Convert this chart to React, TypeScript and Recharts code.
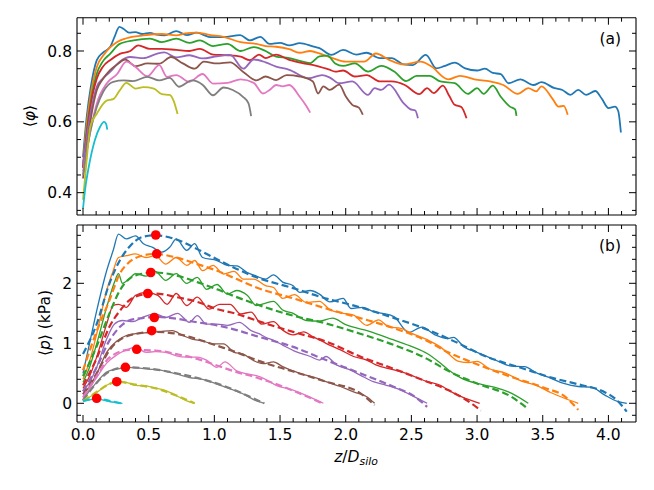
import React from 'react';
import { LineChart, ComposedChart, Line, Scatter, XAxis, YAxis } from 'recharts';

const COLORS = ['#1f77b4', '#ff7f0e', '#2ca02c', '#d62728', '#9467bd', '#8c564b', '#e377c2', '#7f7f7f', '#bcbd22', '#17becf'];

// ---- tick values ----
const xMajor = [0, 0.5, 1, 1.5, 2, 2.5, 3, 3.5, 4];
const xMinor = [0.1, 0.2, 0.3, 0.4, 0.6, 0.7, 0.8, 0.9, 1.1, 1.2, 1.3, 1.4, 1.6, 1.7, 1.8, 1.9, 2.1, 2.2, 2.3, 2.4, 2.6, 2.7, 2.8, 2.9, 3.1, 3.2, 3.3, 3.4, 3.6, 3.7, 3.8, 3.9, 4.1];
const phiMajor = [0.4, 0.6, 0.8];
const phiMinor = [0.35, 0.45, 0.5, 0.55, 0.65, 0.7, 0.75, 0.85];
const pMajor = [0, 1, 2];
const pMinor = [-0.2, 0.2, 0.4, 0.6, 0.8, 1.2, 1.4, 1.6, 1.8, 2.2, 2.4, 2.6, 2.8];

// ---- panel (a): packing fraction ----
const phiBlue = [[0, 0.5], [0.03, 0.62], [0.06, 0.7], [0.105, 0.774], [0.15, 0.795], [0.206, 0.811], [0.24, 0.84], [0.277, 0.868], [0.31, 0.862], [0.35, 0.852], [0.4, 0.853], [0.45, 0.848], [0.51, 0.851], [0.56, 0.846], [0.62, 0.844], [0.71, 0.856], [0.79, 0.845], [0.866, 0.852], [0.92, 0.845], [0.97, 0.839], [1.07, 0.839], [1.196, 0.845], [1.27, 0.83], [1.35, 0.84], [1.42, 0.82], [1.5, 0.823], [1.57, 0.816], [1.65, 0.822], [1.75, 0.813], [1.8, 0.808], [1.89, 0.789], [1.98, 0.803], [2.08, 0.79], [2.16, 0.795], [2.26, 0.78], [2.35, 0.78], [2.44, 0.762], [2.51, 0.76], [2.61, 0.789], [2.69, 0.751], [2.75, 0.757], [2.83, 0.767], [2.91, 0.751], [3.0, 0.745], [3.06, 0.75], [3.12, 0.738], [3.18, 0.735], [3.24, 0.709], [3.33, 0.72], [3.43, 0.704], [3.49, 0.712], [3.59, 0.695], [3.65, 0.69], [3.71, 0.676], [3.77, 0.69], [3.83, 0.676], [3.9, 0.687], [3.95, 0.665], [4.0, 0.639], [4.05, 0.643], [4.075, 0.63], [4.095, 0.57]];
const phiOrange = [[0, 0.48], [0.03, 0.6], [0.06, 0.68], [0.105, 0.755], [0.16, 0.79], [0.206, 0.81], [0.257, 0.825], [0.33, 0.836], [0.46, 0.844], [0.6, 0.848], [0.71, 0.844], [0.78, 0.85], [0.86, 0.852], [0.97, 0.845], [1.07, 0.84], [1.2, 0.825], [1.32, 0.82], [1.39, 0.814], [1.47, 0.812], [1.57, 0.805], [1.65, 0.795], [1.73, 0.8], [1.8, 0.793], [1.9, 0.78], [2.0, 0.77], [2.14, 0.77], [2.23, 0.793], [2.33, 0.775], [2.44, 0.762], [2.57, 0.77], [2.65, 0.757], [2.78, 0.72], [2.87, 0.73], [2.98, 0.72], [3.1, 0.714], [3.2, 0.704], [3.31, 0.679], [3.39, 0.695], [3.45, 0.686], [3.49, 0.7], [3.58, 0.662], [3.62, 0.643], [3.66, 0.645], [3.69, 0.62]];
const phiGreen = [[0, 0.47], [0.03, 0.58], [0.06, 0.66], [0.105, 0.736], [0.15, 0.77], [0.206, 0.792], [0.28, 0.82], [0.385, 0.83], [0.51, 0.835], [0.6, 0.825], [0.71, 0.835], [0.81, 0.823], [0.89, 0.83], [0.99, 0.814], [1.1, 0.82], [1.2, 0.8], [1.3, 0.811], [1.39, 0.8], [1.47, 0.784], [1.57, 0.78], [1.65, 0.772], [1.73, 0.766], [1.8, 0.785], [1.86, 0.787], [1.92, 0.765], [1.98, 0.758], [2.07, 0.765], [2.17, 0.742], [2.27, 0.758], [2.37, 0.742], [2.46, 0.715], [2.54, 0.73], [2.64, 0.73], [2.72, 0.714], [2.83, 0.709], [2.93, 0.679], [3.0, 0.695], [3.05, 0.679], [3.12, 0.702], [3.18, 0.671], [3.25, 0.643], [3.29, 0.635], [3.3, 0.617]];
const phiRed = [[0, 0.47], [0.03, 0.57], [0.06, 0.65], [0.105, 0.722], [0.15, 0.755], [0.206, 0.774], [0.28, 0.792], [0.36, 0.8], [0.42, 0.816], [0.51, 0.806], [0.6, 0.806], [0.71, 0.803], [0.81, 0.8], [0.89, 0.806], [0.99, 0.79], [1.1, 0.788], [1.2, 0.784], [1.27, 0.774], [1.34, 0.79], [1.39, 0.78], [1.47, 0.79], [1.57, 0.775], [1.67, 0.766], [1.77, 0.759], [1.87, 0.748], [1.92, 0.742], [1.98, 0.745], [2.07, 0.728], [2.16, 0.732], [2.26, 0.714], [2.35, 0.714], [2.45, 0.704], [2.56, 0.678], [2.62, 0.695], [2.67, 0.681], [2.74, 0.702], [2.79, 0.672], [2.83, 0.648], [2.88, 0.642], [2.92, 0.61]];
const phiPurple = [[0, 0.48], [0.03, 0.56], [0.06, 0.63], [0.105, 0.699], [0.15, 0.722], [0.206, 0.741], [0.28, 0.77], [0.36, 0.783], [0.46, 0.78], [0.56, 0.792], [0.62, 0.796], [0.71, 0.782], [0.81, 0.788], [0.91, 0.779], [1.02, 0.785], [1.12, 0.789], [1.22, 0.75], [1.3, 0.776], [1.39, 0.768], [1.47, 0.756], [1.57, 0.747], [1.72, 0.723], [1.82, 0.732], [1.88, 0.725], [1.95, 0.709], [2.05, 0.714], [2.17, 0.676], [2.22, 0.695], [2.27, 0.69], [2.33, 0.705], [2.44, 0.653], [2.49, 0.636], [2.53, 0.632], [2.55, 0.61]];
const phiBrown = [[0, 0.44], [0.03, 0.53], [0.06, 0.61], [0.105, 0.689], [0.15, 0.72], [0.206, 0.746], [0.26, 0.762], [0.32, 0.776], [0.4, 0.757], [0.49, 0.765], [0.58, 0.764], [0.67, 0.783], [0.76, 0.765], [0.85, 0.75], [0.92, 0.77], [1.02, 0.765], [1.12, 0.768], [1.22, 0.741], [1.32, 0.717], [1.39, 0.728], [1.47, 0.718], [1.55, 0.732], [1.65, 0.728], [1.75, 0.714], [1.79, 0.68], [1.83, 0.7], [1.88, 0.69], [1.95, 0.705], [2.0, 0.672], [2.05, 0.648], [2.1, 0.64], [2.13, 0.62]];
const phiPink = [[0, 0.46], [0.03, 0.52], [0.06, 0.58], [0.105, 0.652], [0.18, 0.708], [0.26, 0.735], [0.33, 0.77], [0.4, 0.755], [0.49, 0.729], [0.58, 0.76], [0.64, 0.727], [0.71, 0.732], [0.81, 0.713], [0.91, 0.735], [0.99, 0.708], [1.1, 0.71], [1.2, 0.72], [1.3, 0.71], [1.37, 0.68], [1.42, 0.69], [1.47, 0.704], [1.52, 0.7], [1.57, 0.704], [1.65, 0.671], [1.7, 0.645], [1.73, 0.626]];
const phiGray = [[0, 0.45], [0.03, 0.52], [0.06, 0.58], [0.105, 0.642], [0.154, 0.685], [0.23, 0.713], [0.31, 0.717], [0.38, 0.715], [0.49, 0.727], [0.58, 0.717], [0.66, 0.724], [0.73, 0.699], [0.83, 0.717], [0.91, 0.705], [0.99, 0.675], [1.07, 0.697], [1.14, 0.69], [1.22, 0.67], [1.26, 0.652], [1.28, 0.616]];
const phiOlive = [[0, 0.38], [0.03, 0.5], [0.055, 0.586], [0.105, 0.623], [0.18, 0.66], [0.23, 0.664], [0.28, 0.689], [0.33, 0.71], [0.4, 0.694], [0.46, 0.698], [0.54, 0.694], [0.6, 0.678], [0.66, 0.676], [0.69, 0.659], [0.72, 0.622]];
const phiCyan = [[0, 0.355], [0.02, 0.42], [0.04, 0.465], [0.09, 0.548], [0.13, 0.586], [0.16, 0.6], [0.175, 0.595], [0.185, 0.578]];

// ---- panel (b): pressure, measured ----
const pBlue = [[0, 0.5], [0.05, 1.0], [0.104, 1.54], [0.18, 2.21], [0.23, 2.55], [0.27, 2.82], [0.33, 2.74], [0.4, 2.79], [0.46, 2.66], [0.53, 2.6], [0.6, 2.52], [0.66, 2.6], [0.71, 2.74], [0.79, 2.55], [0.85, 2.66], [0.91, 2.43], [1.02, 2.38], [1.1, 2.3], [1.17, 2.29], [1.25, 2.18], [1.32, 2.12], [1.39, 2.07], [1.45, 2.14], [1.52, 2.02], [1.6, 1.96], [1.65, 1.85], [1.73, 1.88], [1.8, 1.82], [1.88, 1.69], [1.98, 1.75], [2.04, 1.58], [2.13, 1.6], [2.21, 1.53], [2.28, 1.5], [2.37, 1.44], [2.48, 1.18], [2.58, 1.27], [2.68, 1.14], [2.78, 1.08], [2.82, 1.1], [2.9, 0.94], [3.0, 0.85], [3.13, 0.73], [3.26, 0.62], [3.36, 0.61], [3.46, 0.5], [3.56, 0.42], [3.66, 0.33], [3.77, 0.28], [3.87, 0.27], [3.97, 0.14], [4.07, 0.03], [4.14, 0.0]];
const pOrange = [[0, 0.4], [0.05, 0.7], [0.104, 1.155], [0.18, 1.88], [0.23, 2.21], [0.27, 2.43], [0.33, 2.46], [0.4, 2.49], [0.48, 2.43], [0.55, 2.46], [0.63, 2.32], [0.71, 2.43], [0.79, 2.3], [0.85, 2.38], [0.91, 2.21], [0.99, 2.3], [1.07, 2.155], [1.15, 2.2], [1.22, 2.07], [1.3, 2.07], [1.39, 1.96], [1.45, 1.93], [1.52, 1.75], [1.61, 1.81], [1.7, 1.68], [1.8, 1.7], [1.88, 1.56], [1.98, 1.5], [2.06, 1.47], [2.16, 1.3], [2.25, 1.39], [2.33, 1.27], [2.42, 1.25], [2.5, 1.17], [2.62, 1.06], [2.72, 0.94], [2.78, 0.83], [2.86, 0.7], [2.94, 0.68], [3.0, 0.7], [3.09, 0.58], [3.22, 0.5], [3.35, 0.36], [3.45, 0.3], [3.56, 0.18], [3.67, 0.08], [3.77, 0.0]];
const pGreen = [[0, 0.35], [0.05, 0.6], [0.104, 0.99], [0.18, 1.6], [0.24, 2.02], [0.27, 2.16], [0.3, 2.0], [0.35, 2.07], [0.4, 2.16], [0.48, 2.12], [0.55, 2.2], [0.63, 2.05], [0.71, 2.16], [0.79, 2.0], [0.87, 2.1], [0.94, 1.9], [1.02, 1.98], [1.1, 1.82], [1.17, 1.88], [1.25, 1.8], [1.32, 1.63], [1.39, 1.67], [1.45, 1.7], [1.52, 1.555], [1.6, 1.5], [1.7, 1.38], [1.8, 1.37], [1.9, 1.42], [2.0, 1.31], [2.18, 1.2], [2.36, 1.06], [2.51, 0.94], [2.62, 0.83], [2.72, 0.67], [2.78, 0.56], [2.88, 0.42], [3.0, 0.33], [3.13, 0.27], [3.26, 0.17], [3.39, 0.0]];
const pRed = [[0, 0.25], [0.05, 0.45], [0.104, 0.77], [0.18, 1.32], [0.23, 1.63], [0.27, 1.65], [0.33, 1.6], [0.4, 1.8], [0.48, 1.85], [0.57, 1.8], [0.64, 1.65], [0.71, 1.83], [0.79, 1.63], [0.87, 1.77], [0.96, 1.57], [1.04, 1.65], [1.12, 1.65], [1.2, 1.49], [1.28, 1.52], [1.36, 1.32], [1.45, 1.36], [1.52, 1.22], [1.6, 1.14], [1.68, 1.19], [1.75, 1.11], [1.85, 1.0], [1.96, 0.89], [2.06, 0.78], [2.16, 0.72], [2.23, 0.64], [2.36, 0.56], [2.46, 0.5], [2.62, 0.36], [2.72, 0.3], [2.78, 0.22], [2.88, 0.11], [3.02, 0.0]];
const pPurple = [[0, 0.2], [0.05, 0.35], [0.104, 0.6], [0.18, 1.07], [0.24, 1.32], [0.3, 1.38], [0.38, 1.36], [0.45, 1.43], [0.55, 1.49], [0.63, 1.43], [0.72, 1.5], [0.81, 1.35], [0.87, 1.46], [0.94, 1.32], [1.02, 1.32], [1.1, 1.3], [1.19, 1.35], [1.28, 1.21], [1.34, 1.16], [1.39, 1.1], [1.45, 1.05], [1.52, 0.97], [1.62, 0.86], [1.73, 0.78], [1.8, 0.72], [1.85, 0.78], [1.93, 0.64], [2.03, 0.56], [2.11, 0.47], [2.21, 0.36], [2.31, 0.3], [2.42, 0.22], [2.52, 0.11], [2.62, 0.0]];
const pBrown = [[0, 0.15], [0.05, 0.28], [0.104, 0.49], [0.18, 0.85], [0.26, 1.04], [0.33, 1.13], [0.4, 1.16], [0.5, 1.18], [0.6, 1.2], [0.68, 1.21], [0.76, 1.13], [0.83, 1.07], [0.91, 1.04], [0.99, 0.99], [1.07, 0.99], [1.15, 0.85], [1.22, 0.82], [1.3, 0.71], [1.37, 0.66], [1.45, 0.69], [1.52, 0.61], [1.65, 0.5], [1.78, 0.42], [1.85, 0.36], [1.96, 0.28], [2.06, 0.19], [2.16, 0.11], [2.22, 0.0]];
const pPink = [[0, 0.08], [0.05, 0.25], [0.104, 0.43], [0.18, 0.67], [0.26, 0.81], [0.33, 0.89], [0.4, 0.93], [0.48, 0.85], [0.55, 0.86], [0.63, 0.85], [0.71, 0.79], [0.79, 0.77], [0.87, 0.77], [0.94, 0.72], [1.02, 0.6], [1.08, 0.69], [1.17, 0.54], [1.25, 0.49], [1.32, 0.46], [1.39, 0.4], [1.47, 0.3], [1.6, 0.22], [1.72, 0.11], [1.83, 0.0]];
const pGray = [[0, 0.05], [0.05, 0.21], [0.104, 0.35], [0.18, 0.52], [0.26, 0.57], [0.33, 0.6], [0.4, 0.59], [0.5, 0.57], [0.6, 0.55], [0.71, 0.49], [0.81, 0.43], [0.91, 0.4], [1.02, 0.32], [1.12, 0.24], [1.22, 0.155], [1.32, 0.04], [1.38, 0.0]];
const pOlive = [[0, 0.04], [0.104, 0.18], [0.18, 0.3], [0.26, 0.37], [0.33, 0.35], [0.4, 0.3], [0.48, 0.29], [0.55, 0.255], [0.63, 0.21], [0.71, 0.13], [0.79, 0.04], [0.85, 0.0]];
const pCyan = [[0, 0.03], [0.104, 0.07], [0.2, 0.03], [0.3, 0.0]];

// ---- panel (b): pressure, fits (dashed) ----
const fitBlue = [[0, 0.82], [0.104, 1.32], [0.2, 1.99], [0.28, 2.38], [0.35, 2.6], [0.45, 2.77], [0.55, 2.8], [0.71, 2.73], [0.87, 2.57], [1.02, 2.4], [1.17, 2.24], [1.32, 2.1], [1.6, 1.92], [1.8, 1.78], [2.11, 1.6], [2.37, 1.42], [2.56, 1.28], [2.8, 1.06], [3.07, 0.78], [3.35, 0.58], [3.58, 0.42], [3.8, 0.3], [3.96, 0.2], [4.06, 0.06], [4.14, -0.14]];
const fitOrange = [[0, 0.55], [0.104, 1.2], [0.2, 1.71], [0.28, 2.16], [0.35, 2.35], [0.45, 2.46], [0.55, 2.49], [0.71, 2.43], [0.87, 2.32], [1.02, 2.21], [1.17, 2.07], [1.32, 1.93], [1.6, 1.75], [1.85, 1.58], [2.11, 1.42], [2.37, 1.25], [2.62, 1.04], [2.78, 0.85], [3.0, 0.65], [3.26, 0.44], [3.51, 0.26], [3.67, 0.11], [3.77, -0.11]];
const fitGreen = [[0, 0.45], [0.104, 0.95], [0.2, 1.49], [0.28, 1.88], [0.35, 2.07], [0.45, 2.16], [0.55, 2.18], [0.71, 2.13], [0.87, 2.02], [1.02, 1.9], [1.17, 1.77], [1.32, 1.65], [1.6, 1.46], [1.85, 1.33], [2.11, 1.16], [2.37, 0.97], [2.62, 0.74], [2.78, 0.54], [3.0, 0.33], [3.26, 0.11], [3.38, -0.08]];
const fitRed = [[0, 0.3], [0.104, 0.75], [0.2, 1.27], [0.28, 1.54], [0.35, 1.71], [0.45, 1.81], [0.55, 1.83], [0.71, 1.77], [0.87, 1.69], [1.02, 1.57], [1.17, 1.49], [1.32, 1.38], [1.6, 1.19], [1.85, 1.03], [2.11, 0.78], [2.36, 0.58], [2.62, 0.36], [2.78, 0.22], [2.9, 0.08], [3.03, -0.12]];
const fitPurple = [[0, 0.2], [0.104, 0.6], [0.2, 1.04], [0.28, 1.27], [0.35, 1.38], [0.45, 1.42], [0.55, 1.44], [0.71, 1.41], [0.87, 1.35], [1.02, 1.3], [1.17, 1.22], [1.32, 1.12], [1.6, 0.94], [1.85, 0.72], [2.11, 0.5], [2.36, 0.28], [2.52, 0.12], [2.62, -0.06]];
const fitBrown = [[0, 0.15], [0.104, 0.5], [0.2, 0.88], [0.35, 1.13], [0.55, 1.19], [0.71, 1.16], [0.87, 1.07], [1.02, 0.96], [1.17, 0.85], [1.32, 0.72], [1.6, 0.53], [1.85, 0.36], [2.11, 0.17], [2.22, -0.03]];
const fitPink = [[0, 0.1], [0.104, 0.45], [0.2, 0.76], [0.35, 0.89], [0.55, 0.88], [0.71, 0.82], [0.87, 0.74], [1.02, 0.63], [1.17, 0.52], [1.32, 0.43], [1.6, 0.21], [1.83, -0.01]];
const fitGray = [[0, 0.05], [0.104, 0.34], [0.2, 0.53], [0.32, 0.6], [0.5, 0.58], [0.71, 0.5], [0.91, 0.4], [1.12, 0.25], [1.32, 0.06], [1.38, 0.0]];
const fitOlive = [[0, 0.04], [0.104, 0.19], [0.2, 0.32], [0.26, 0.36], [0.4, 0.31], [0.55, 0.25], [0.71, 0.13], [0.85, 0.0]];
const fitCyan = [[0, 0.04], [0.104, 0.08], [0.2, 0.04], [0.31, -0.01]];

// ---- panel (b): maxima markers ----
const peakPoints = [[0.554, 2.805], [0.561, 2.49], [0.516, 2.18], [0.493, 1.83], [0.543, 1.43], [0.523, 1.21], [0.409, 0.9], [0.323, 0.6], [0.257, 0.36], [0.104, 0.083]];

const phiSeries = [phiBlue, phiOrange, phiGreen, phiRed, phiPurple, phiBrown, phiPink, phiGray, phiOlive, phiCyan];
const pSeries = [pBlue, pOrange, pGreen, pRed, pPurple, pBrown, pPink, pGray, pOlive, pCyan];
const fitSeries = [fitBlue, fitOrange, fitGreen, fitRed, fitPurple, fitBrown, fitPink, fitGray, fitOlive, fitCyan];

const toPts = (a: number[][]) => a.map(([x, y]) => ({ x, y }));

const X_DOMAIN: [number, number] = [-0.0457, 4.21];
const PHI_DOMAIN: [number, number] = [0.337, 0.894];
const P_DOMAIN: [number, number] = [-0.312, 2.972];

const FONT = 'DejaVu Sans, sans-serif';
const FS = 15.5;
const AXIS_LINE = { stroke: '#000', strokeWidth: 1.1 };

const isIn = (arr: number[], v: number) => arr.some((m) => Math.abs(m - v) < 1e-9);

function renderTick(props: any, side: string, majors: number[], fmt: ((v: number) => string) | null) {
  const { x, y, payload } = props;
  const v = payload.value;
  const major = isIn(majors, v);
  const len = major ? 7 : 4;
  let line;
  if (side === 'bottom') line = <line x1={x} y1={y} x2={x} y2={y - len} stroke="#000" strokeWidth={1} />;
  else if (side === 'top') line = <line x1={x} y1={y} x2={x} y2={y + len} stroke="#000" strokeWidth={1} />;
  else if (side === 'left') line = <line x1={x} y1={y} x2={x + len} y2={y} stroke="#000" strokeWidth={1} />;
  else line = <line x1={x} y1={y} x2={x - len} y2={y} stroke="#000" strokeWidth={1} />;
  let label = null;
  if (fmt && major) {
    if (side === 'bottom') {
      label = (
        <text x={x} y={y + 18} textAnchor="middle" fontSize={FS} fontFamily={FONT} fill="#000">
          {fmt(v)}
        </text>
      );
    } else if (side === 'left') {
      label = (
        <text x={x - 5} y={y} dy="0.36em" textAnchor="end" fontSize={FS} fontFamily={FONT} fill="#000">
          {fmt(v)}
        </text>
      );
    }
  }
  return (
    <g>
      {line}
      {label}
    </g>
  );
}

const xTicks = [...xMajor, ...xMinor];
const phiTicks = [...phiMajor, ...phiMinor];
const pTicks = [...pMajor, ...pMinor];
const fmt1 = (v: number) => v.toFixed(1);
const fmt0 = (v: number) => v.toFixed(0);

function commonX(id: string, orientation: 'top' | 'bottom', height: number, fmt: ((v: number) => string) | null) {
  return (
    <XAxis
      xAxisId={id}
      type="number"
      dataKey="x"
      orientation={orientation}
      domain={X_DOMAIN}
      allowDataOverflow
      ticks={xTicks}
      interval={0}
      height={height}
      tickSize={0}
      tickMargin={0}
      tickLine={false}
      axisLine={AXIS_LINE}
      tick={(p: any) => renderTick(p, orientation, xMajor, fmt)}
    />
  );
}

function commonY(id: string, orientation: 'left' | 'right', width: number, domain: [number, number], ticks: number[], majors: number[], fmt: ((v: number) => string) | null) {
  return (
    <YAxis
      yAxisId={id}
      type="number"
      orientation={orientation}
      domain={domain}
      allowDataOverflow
      ticks={ticks}
      interval={0}
      width={width}
      tickSize={0}
      tickMargin={0}
      tickLine={false}
      axisLine={AXIS_LINE}
      tick={(p: any) => renderTick(p, orientation, majors, fmt)}
    />
  );
}

export default function App() {
  return (
    <div style={{ position: 'absolute', left: 0, top: 0, width: 654, height: 490, background: '#fff', fontFamily: FONT }}>
      <div style={{ position: 'absolute', left: 0, top: 0 }}>
        <LineChart width={654} height={220} margin={{ top: 0, right: 0, bottom: 0, left: 0 }}>
          {commonX('b', 'bottom', 5, null)}
          {commonX('t', 'top', 17.7, null)}
          {commonY('l', 'left', 77, PHI_DOMAIN, phiTicks, phiMajor, (v) => v.toFixed(1))}
          {commonY('r', 'right', 18, PHI_DOMAIN, phiTicks, phiMajor, null)}
          {phiSeries.map((s, i) => (
            <Line
              key={'phi' + i}
              xAxisId="b"
              yAxisId="l"
              data={toPts(s)}
              dataKey="y"
              type="monotone"
              stroke={COLORS[i]}
              strokeWidth={1.8}
              dot={false}
              activeDot={false}
              isAnimationActive={false}
            />
          ))}
        </LineChart>
      </div>
      <div style={{ position: 'absolute', left: 0, top: 220 }}>
        <ComposedChart width={654} height={270} margin={{ top: 0, right: 0, bottom: 0, left: 0 }}>
          {commonX('b', 'bottom', 68, fmt1)}
          {commonX('t', 'top', 5, null)}
          {commonY('l', 'left', 77, P_DOMAIN, pTicks, pMajor, fmt0)}
          {commonY('r', 'right', 18, P_DOMAIN, pTicks, pMajor, null)}
          {pSeries.map((s, i) => (
            <Line
              key={'p' + i}
              xAxisId="b"
              yAxisId="l"
              data={toPts(s)}
              dataKey="y"
              type="monotone"
              stroke={COLORS[i]}
              strokeWidth={1.3}
              dot={false}
              activeDot={false}
              isAnimationActive={false}
            />
          ))}
          {fitSeries.map((s, i) => (
            <Line
              key={'f' + i}
              xAxisId="b"
              yAxisId="l"
              data={toPts(s)}
              dataKey="y"
              type="monotone"
              stroke={COLORS[i]}
              strokeWidth={2.2}
              strokeDasharray="7 3.5"
              dot={false}
              activeDot={false}
              isAnimationActive={false}
            />
          ))}
          <Scatter
            xAxisId="b"
            yAxisId="l"
            data={toPts(peakPoints)}
            dataKey="y"
            fill="#ff0000"
            isAnimationActive={false}
            shape={(p: any) => <circle cx={p.cx} cy={p.cy} r={4.8} fill="#ff0000" />}
          />
        </ComposedChart>
      </div>
      <svg width={654} height={490} style={{ position: 'absolute', left: 0, top: 0, pointerEvents: 'none' }}>
        <text x={29.5} y={116} transform="rotate(-90 29.5 116)" textAnchor="middle" dy="0.36em" fontSize={FS} fontFamily={FONT} fill="#000">
          ⟨<tspan fontStyle="italic">φ</tspan>⟩
        </text>
        <text x={44.5} y={323} transform="rotate(-90 44.5 323)" textAnchor="middle" dy="0.36em" fontSize={FS} fontFamily={FONT} fill="#000">
          ⟨<tspan fontStyle="italic">p</tspan>⟩ (kPa)
        </text>
        <text x={356} y={462} textAnchor="middle" fontSize={FS} fontFamily={FONT} fill="#000">
          <tspan fontStyle="italic">z</tspan>/<tspan fontStyle="italic">D</tspan>
          <tspan fontStyle="italic" fontSize={FS * 0.7} dy={3}>silo</tspan>
        </text>
        <text x={621} y={43.5} textAnchor="end" fontSize={FS} fontFamily={FONT} fill="#000">(a)</text>
        <text x={621} y={251} textAnchor="end" fontSize={FS} fontFamily={FONT} fill="#000">(b)</text>
      </svg>
    </div>
  );
}
